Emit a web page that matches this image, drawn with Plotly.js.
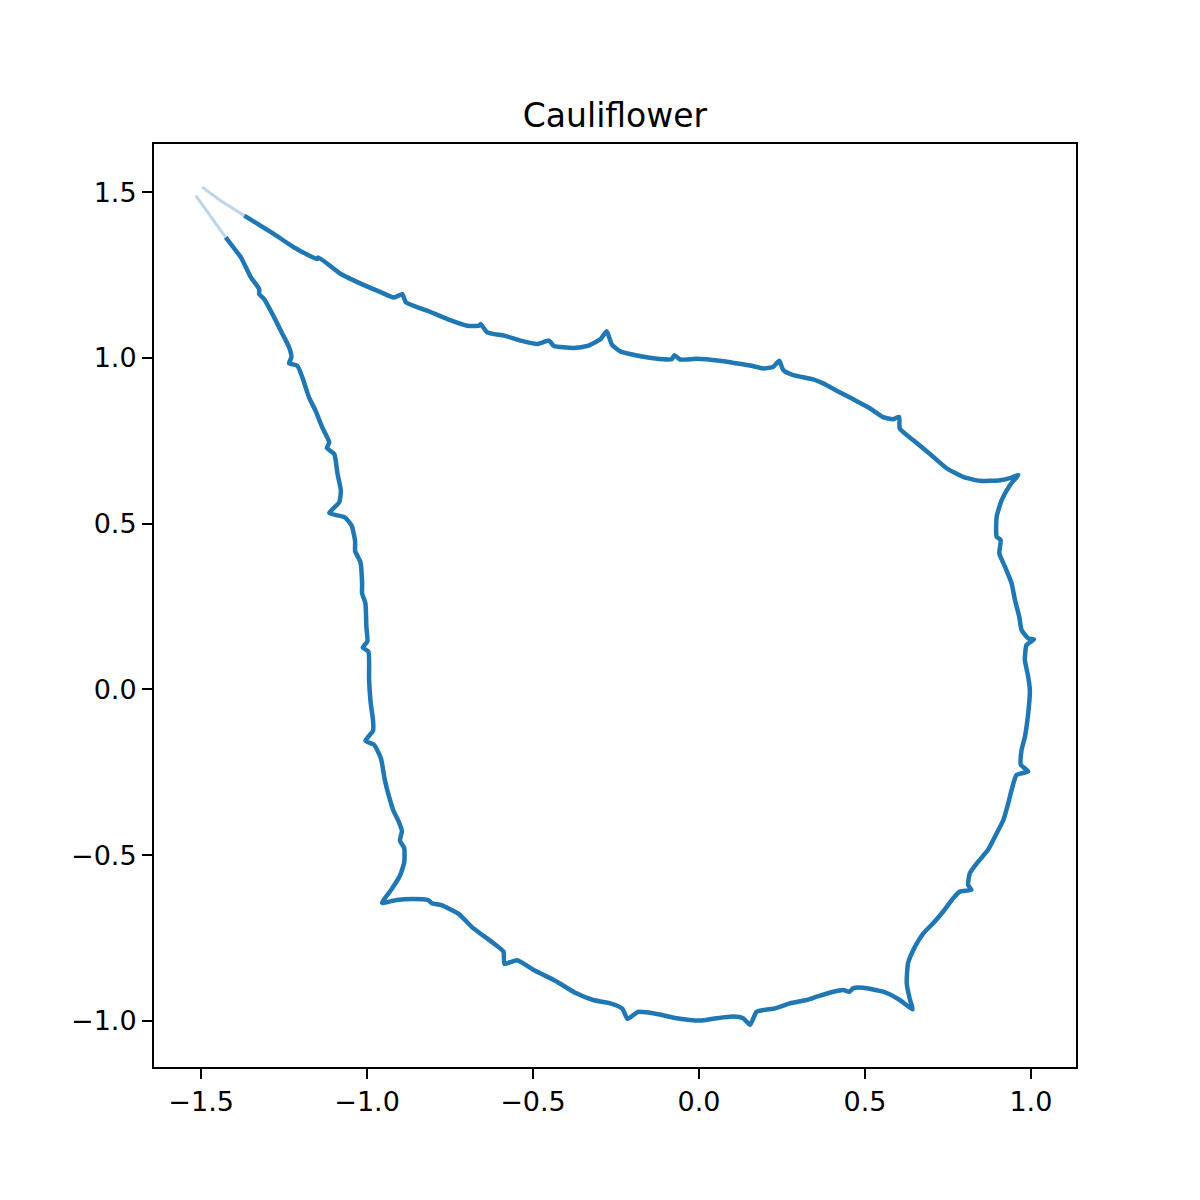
<!DOCTYPE html>
<html>
<head>
<meta charset="UTF-8">
<script src="https://cdn.plot.ly/plotly-3.0.1.min.js"></script>
<style>
  body { margin: 0; background: #fff; }
</style>
</head>
<body>
<div id="plot" style="width:1200px;height:1200px;"></div>
<script>
// boundary traced from the tip at top-left, clockwise round the set
var boundaryX = [
  -1.497, -1.441, -1.370, -1.280, -1.220, -1.150, -1.147, -1.079, -1.039, -0.959,
  -0.919, -0.894, -0.883, -0.818, -0.758, -0.698, -0.663, -0.658, -0.638, -0.587,
  -0.537, -0.487, -0.452, -0.437, -0.377, -0.336, -0.296, -0.278, -0.262, -0.238,
  -0.218, -0.158, -0.108, -0.082, -0.074, -0.057, -0.007, 0.063, 0.103, 0.154,
  0.194, 0.224, 0.242, 0.254, 0.284, 0.344, 0.374, 0.415, 0.465, 0.515,
  0.555, 0.585, 0.603, 0.605, 0.645, 0.696, 0.746, 0.796, 0.846, 0.907,
  0.937, 0.962,
  0.937, 0.912, 0.897, 0.897, 0.909, 0.905, 0.922, 0.942, 0.952, 0.965,
  0.972, 0.992, 1.009, 0.987, 0.982, 0.992, 0.997, 0.992, 0.982, 0.972,
  0.970, 0.992, 0.957, 0.942, 0.932, 0.917, 0.892, 0.871, 0.841, 0.816,
  0.811, 0.821, 0.786, 0.766, 0.736, 0.706, 0.676, 0.651, 0.630, 0.626,
  0.636, 0.644,
  0.605, 0.555, 0.495, 0.465, 0.453, 0.435, 0.405, 0.355, 0.324, 0.274,
  0.229, 0.174, 0.154, 0.133, 0.103, 0.053, 0.003, -0.067, -0.122, -0.184,
  -0.215, -0.231, -0.267, -0.319, -0.371, -0.433, -0.495, -0.548, -0.586, -0.589,
  -0.620, -0.662, -0.683, -0.724, -0.776, -0.805, -0.817, -0.859, -0.911, -0.955,
  -0.927, -0.901, -0.888, -0.888, -0.901, -0.895, -0.906, -0.921, -0.934, -0.947,
  -0.958, -0.979, -1.005, -0.982, -0.982, -0.989, -0.994, -0.996, -1.013, -0.999,
  -1.002, -1.005, -1.015, -1.015, -1.020, -1.036, -1.036, -1.046, -1.067, -1.114,
  -1.084, -1.079, -1.089, -1.099, -1.121, -1.114, -1.135, -1.155, -1.175, -1.195,
  -1.210, -1.235, -1.228, -1.235, -1.255, -1.280, -1.310, -1.325, -1.325, -1.350,
  -1.380, -1.395, -1.426, -1.461, -1.496, -1.516
];
var boundaryY = [
  1.515, 1.474, 1.429, 1.373, 1.333, 1.298, 1.303, 1.253, 1.233, 1.198,
  1.182, 1.192, 1.167, 1.142, 1.117, 1.097, 1.097, 1.102, 1.077, 1.067,
  1.052, 1.042, 1.052, 1.036, 1.030, 1.036, 1.057, 1.080, 1.039, 1.020,
  1.014, 1.002, 0.996, 0.996, 1.008, 0.995, 0.997, 0.991, 0.985, 0.977,
  0.968, 0.973, 0.991, 0.963, 0.948, 0.935, 0.923, 0.901, 0.875, 0.848,
  0.821, 0.815, 0.822, 0.787, 0.752, 0.710, 0.667, 0.641, 0.629, 0.631,
  0.637, 0.647,
  0.616, 0.571, 0.521, 0.460, 0.451, 0.410, 0.370, 0.320, 0.270, 0.219,
  0.179, 0.154, 0.151, 0.134, 0.089, 0.038, -0.002, -0.072, -0.143, -0.183,
  -0.228, -0.248, -0.258, -0.303, -0.343, -0.394, -0.444, -0.484, -0.520, -0.555,
  -0.590, -0.605, -0.610, -0.630, -0.670, -0.705, -0.736, -0.776, -0.826, -0.886,
  -0.937, -0.965,
  -0.937, -0.912, -0.900, -0.901, -0.912, -0.907, -0.912, -0.927, -0.937, -0.947,
  -0.962, -0.972, -1.012, -0.992, -0.987, -0.992, -0.999, -0.992, -0.980, -0.973,
  -0.994, -0.963, -0.947, -0.937, -0.916, -0.879, -0.848, -0.817, -0.828, -0.791,
  -0.765, -0.734, -0.718, -0.677, -0.651, -0.645, -0.635, -0.632, -0.635, -0.644,
  -0.604, -0.562, -0.521, -0.479, -0.456, -0.427, -0.396, -0.365, -0.323, -0.271,
  -0.209, -0.167, -0.155, -0.125, -0.094, -0.042, 0.030, 0.114, 0.126, 0.145,
  0.186, 0.259, 0.290, 0.321, 0.384, 0.417, 0.446, 0.493, 0.519, 0.532,
  0.564, 0.599, 0.650, 0.710, 0.728, 0.745, 0.790, 0.840, 0.881, 0.941,
  0.976, 0.984, 1.002, 1.032, 1.072, 1.122, 1.177, 1.192, 1.207, 1.243,
  1.303, 1.323, 1.363, 1.413, 1.459, 1.489
];

var xTicks = [-1.5, -1.0, -0.5, 0.0, 0.5, 1.0];
var yTicks = [-1.0, -0.5, 0.0, 0.5, 1.0, 1.5];
var xTickText = ['\u22121.5', '\u22121.0', '\u22120.5', '0.0', '0.5', '1.0'];
var yTickText = ['\u22121.0', '\u22120.5', '0.0', '0.5', '1.0', '1.5'];

var blue = '#1f77b4';
var n = boundaryX.length;

// the two ends near the tip fade out in the original
var headEnd = 3, tailStart = n - 4;

var traceMain = {
  x: boundaryX.slice(headEnd - 1, tailStart + 1),
  y: boundaryY.slice(headEnd - 1, tailStart + 1),
  mode: 'lines', type: 'scatter',
  line: {color: blue, width: 4.5, shape: 'spline', smoothing: 0.5}
};
var traceHead = {
  x: boundaryX.slice(0, headEnd),
  y: boundaryY.slice(0, headEnd),
  mode: 'lines', type: 'scatter', opacity: 0.3,
  line: {color: blue, width: 3}
};
var traceTail = {
  x: boundaryX.slice(tailStart),
  y: boundaryY.slice(tailStart),
  mode: 'lines', type: 'scatter', opacity: 0.3,
  line: {color: blue, width: 3}
};

var axisStyle = {
  showgrid: false, zeroline: false,
  showline: true, mirror: true, linecolor: '#000', linewidth: 2,
  ticks: 'outside', ticklen: 10, tickwidth: 2, tickcolor: '#000',
  tickfont: {family: 'DejaVu Sans', size: 27, color: '#000'}
};

var layout = {
  width: 1200, height: 1200,
  margin: {l: 154, r: 124, t: 144, b: 133},
  paper_bgcolor: '#fff', plot_bgcolor: '#fff',
  showlegend: false,
  title: {
    text: 'Cauliflower',
    font: {family: 'DejaVu Sans', size: 33, color: '#000'},
    x: 0.5, xref: 'paper', xanchor: 'center',
    y: 0.904, yref: 'container', yanchor: 'middle'
  },
  xaxis: Object.assign({}, axisStyle, {
    range: [-1.642, 1.136], tickvals: xTicks, ticktext: xTickText
  }),
  yaxis: Object.assign({}, axisStyle, {
    range: [-1.139, 1.645], tickvals: yTicks, ticktext: yTickText
  })
};

Plotly.newPlot('plot', [traceMain, traceHead, traceTail], layout, {displayModeBar: false, staticPlot: true});
</script>
</body>
</html>
